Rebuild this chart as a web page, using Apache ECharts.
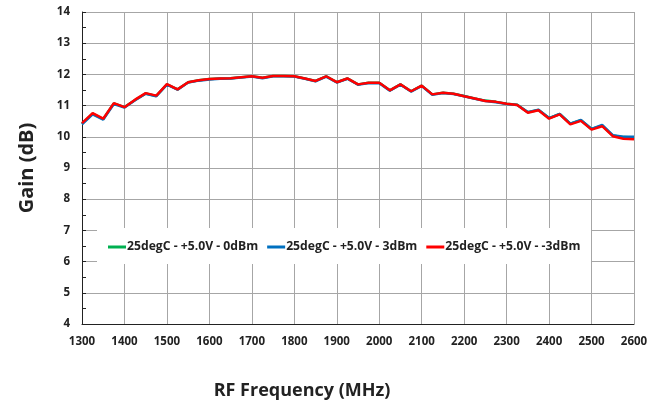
<!DOCTYPE html>
<html>
<head>
<meta charset="utf-8">
<script src="https://cdn.jsdelivr.net/npm/echarts@6/dist/echarts.min.js"></script>
<style>
  html, body { margin: 0; padding: 0; background: #fff; }
  #chart { width: 662px; height: 402px; }
</style>
</head>
<body>
<div id="chart"></div>
<script>
// Gain vs RF frequency, 25 MHz steps
var freqs = [1300, 1325, 1350, 1375, 1400, 1425, 1450, 1475, 1500, 1525, 1550, 1575,
  1600, 1625, 1650, 1675, 1700, 1725, 1750, 1775, 1800, 1825, 1850, 1875,
  1900, 1925, 1950, 1975, 2000, 2025, 2050, 2075, 2100, 2125, 2150, 2175,
  2200, 2225, 2250, 2275, 2300, 2325, 2350, 2375, 2400, 2425, 2450, 2475,
  2500, 2525, 2550, 2575, 2600];

var gain0dBm = [10.42, 10.74, 10.57, 11.07, 10.95, 11.18, 11.39, 11.31, 11.68, 11.52, 11.75, 11.81,
  11.85, 11.87, 11.88, 11.91, 11.94, 11.89, 11.95, 11.95, 11.94, 11.87, 11.79, 11.94,
  11.75, 11.87, 11.68, 11.73, 11.73, 11.49, 11.68, 11.46, 11.64, 11.36, 11.41, 11.38,
  11.31, 11.23, 11.16, 11.12, 11.06, 11.03, 10.79, 10.86, 10.60, 10.73, 10.42, 10.53,
  10.25, 10.36, 10.04, 9.99, 9.98];

var gain3dBm = [10.40, 10.72, 10.55, 11.05, 10.94, 11.17, 11.38, 11.30, 11.67, 11.51, 11.74, 11.80,
  11.84, 11.86, 11.87, 11.90, 11.93, 11.88, 11.94, 11.94, 11.93, 11.86, 11.78, 11.93,
  11.74, 11.86, 11.67, 11.72, 11.72, 11.48, 11.67, 11.45, 11.63, 11.35, 11.40, 11.37,
  11.30, 11.22, 11.15, 11.11, 11.05, 11.02, 10.79, 10.87, 10.60, 10.73, 10.42, 10.54,
  10.25, 10.38, 10.05, 10.00, 10.00];

var gainM3dBm = [10.44, 10.76, 10.58, 11.08, 10.95, 11.19, 11.40, 11.32, 11.69, 11.52, 11.75, 11.81,
  11.85, 11.87, 11.88, 11.91, 11.94, 11.89, 11.95, 11.95, 11.94, 11.87, 11.79, 11.94,
  11.75, 11.87, 11.68, 11.73, 11.73, 11.49, 11.68, 11.46, 11.64, 11.36, 11.41, 11.38,
  11.30, 11.23, 11.15, 11.12, 11.06, 11.02, 10.77, 10.85, 10.58, 10.72, 10.40, 10.51,
  10.23, 10.34, 10.02, 9.94, 9.92];

var seriesNames = ['25degC - +5.0V - 0dBm', '25degC - +5.0V - 3dBm', '25degC - +5.0V - -3dBm'];
var seriesColors = ['#00b050', '#0070c0', '#ff0000'];

var FONT = '"Open Sans", "Liberation Sans", sans-serif';

function pairs(vals) {
  return freqs.map(function (f, i) { return [f, vals[i]]; });
}

var chart = echarts.init(document.getElementById('chart'));
var option = {
  animation: false,
  backgroundColor: '#fff',
  color: seriesColors,
  grid: { left: 82, right: 28, top: 12, bottom: 78 },
  title: {
    text: 'RF Frequency (MHz)',
    left: 297,
    top: 377,
    textAlign: 'center',
    textStyle: { fontFamily: FONT, fontWeight: 'bold', fontSize: 18, color: '#222' }
  },
  // white box behind the legend, hides the gridlines like the original
  graphic: [{
    type: 'rect',
    left: 97,
    top: 228,
    shape: { width: 494, height: 36 },
    style: { fill: '#fff' },
    z: 50
  }],
  legend: {
    data: seriesNames,
    left: 108,
    top: 241,
    padding: 0,
    itemWidth: 18,
    itemHeight: 3,
    itemGap: 9,
    icon: 'rect',
    z: 60,
    textStyle: { fontFamily: FONT, fontWeight: 'bold', fontSize: 12.2, color: '#222', padding: [0, 0, 0, -4] }
  },
  xAxis: {
    type: 'value',
    min: 1300,
    max: 2600,
    interval: 100,
    axisLine: { lineStyle: { color: '#222', width: 1 } },
    axisTick: { show: false },
    axisLabel: {
      margin: 12, fontFamily: FONT, fontWeight: 'bold', fontSize: 11.5, color: '#222',
      formatter: function (v) { return String(v); }
    },
    splitLine: { show: true, lineStyle: { color: '#a6a6a6', width: 1 } }
  },
  yAxis: {
    type: 'value',
    min: 4,
    max: 14,
    interval: 1,
    name: 'Gain (dB)',
    nameLocation: 'middle',
    nameGap: 45,
    nameTextStyle: { fontFamily: FONT, fontWeight: 'bold', fontSize: 20, color: '#222' },
    axisLine: { show: true, lineStyle: { color: '#222', width: 1 } },
    axisTick: { show: true, inside: true, length: 4, lineStyle: { color: '#222' } },
    minorTick: { show: true, splitNumber: 2, length: 4, lineStyle: { color: '#222' } },
    axisLabel: { margin: 12, fontFamily: FONT, fontWeight: 'bold', fontSize: 11.5, color: '#222' },
    splitLine: { show: true, lineStyle: { color: '#a6a6a6', width: 1 } }
  },
  series: [
    { name: seriesNames[0], type: 'line', data: pairs(gain0dBm), showSymbol: false, symbol: 'none', lineStyle: { width: 2.5 }, z: 2 },
    { name: seriesNames[1], type: 'line', data: pairs(gain3dBm), showSymbol: false, symbol: 'none', lineStyle: { width: 2.5 }, z: 3 },
    { name: seriesNames[2], type: 'line', data: pairs(gainM3dBm), showSymbol: false, symbol: 'none', lineStyle: { width: 2.5 }, z: 4 }
  ]
};
chart.setOption(option);
</script>
</body>
</html>
